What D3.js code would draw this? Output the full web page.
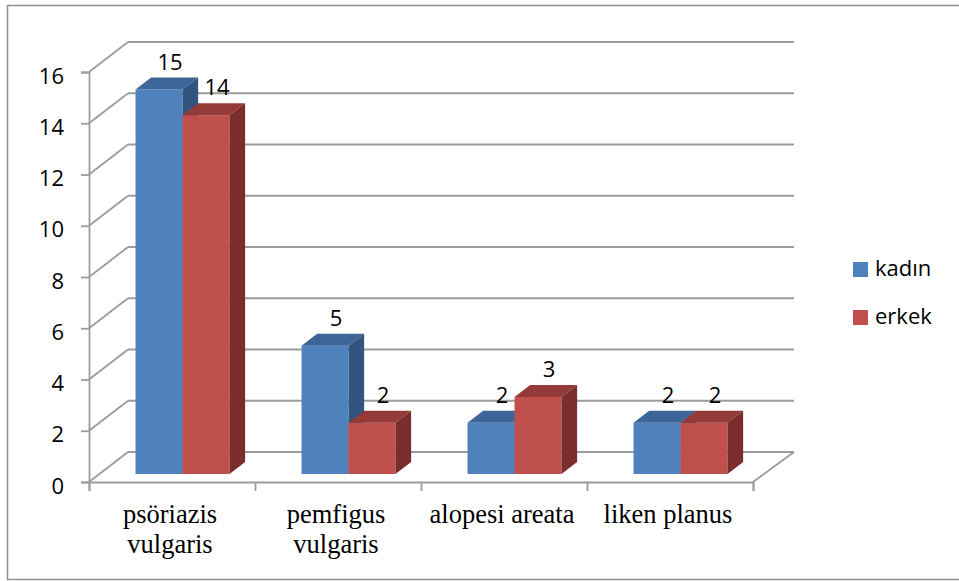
<!DOCTYPE html>
<html>
<head>
<meta charset="utf-8">
<script src="https://cdn.jsdelivr.net/npm/d3@7"></script>
<style>
  body { margin: 0; background: #fff; }
</style>
</head>
<body>
<div id="chart"></div>
<script>
// chart values
const categories = [["psöriazis", "vulgaris"], ["pemfigus", "vulgaris"], ["alopesi areata"], ["liken planus"]]
const seriesNames = ["kadın", "erkek"]
const kadin = [15, 5, 2, 2]
const erkek = [14, 2, 3, 2]
const yTicks = [0, 2, 4, 6, 8, 10, 12, 14, 16]

const width = 959
const height = 581

// oblique depth offset of the back wall
const depthX = 39
const depthY = -30
const barFront = 0.27
const barBack = 0.67

const colors = {
    "kadın": { front: "#4f81bd", top: "#3e6597", side: "#31557f" },
    "erkek": { front: "#c0504d", top: "#943b39", side: "#7a2d2c" }
}
const gridColor = "#9c9c9c"

const svg = d3.select("#chart")
    .append("svg")
    .attr("width", width)
    .attr("height", height)

// outer frame
svg.append("rect")
    .attr("x", 7.5)
    .attr("y", 5.5)
    .attr("width", 960)
    .attr("height", 574)
    .attr("fill", "none")
    .attr("stroke", "#8f8f8f")
    .attr("stroke-width", 1.5)

let x = d3.scaleBand()
    .domain(categories.map((d, i) => i))
    .range([89, 753])

let xInner = d3.scaleBand()
    .domain(seriesNames)
    .range([0, x.bandwidth()])
    .paddingOuter(0.766)

let y = d3.scaleLinear()
    .domain([0, 16])
    .range([482, 72])

const proj = (px, py, d) => [px + d * depthX, py + d * depthY]

const grid = svg.append("g")
    .attr("stroke", gridColor)
    .attr("stroke-width", 1.8)
    .attr("fill", "none")

// back wall gridlines
grid.selectAll(".back")
    .data(yTicks)
    .enter()
    .append("line")
    .attr("x1", proj(x.range()[0], 0, 1)[0])
    .attr("x2", proj(x.range()[1], 0, 1)[0] + 2)
    .attr("y1", d => proj(0, y(d), 1)[1])
    .attr("y2", d => proj(0, y(d), 1)[1])

// side wall diagonals
grid.selectAll(".side")
    .data(yTicks)
    .enter()
    .append("line")
    .attr("x1", x.range()[0])
    .attr("y1", d => y(d))
    .attr("x2", proj(x.range()[0], 0, 1)[0])
    .attr("y2", d => proj(0, y(d), 1)[1])

// floor right edge
grid.append("line")
    .attr("x1", x.range()[1])
    .attr("y1", y(0))
    .attr("x2", proj(x.range()[1], 0, 1)[0] + 2)
    .attr("y2", proj(0, y(0), 1)[1])

// front axes
let yAxis = d3.axisLeft(y).tickValues(yTicks).tickSize(8).tickPadding(17)
let yAxisG = svg.append("g")
    .attr("transform", "translate(" + x.range()[0] + ",0)")
    .call(yAxis)

let xAxis = d3.axisBottom(d3.scaleLinear().domain([0, 4]).range(x.range()))
    .ticks(4).tickSize(9).tickFormat("")
let xAxisG = svg.append("g")
    .attr("transform", "translate(0," + y(0) + ")")
    .call(xAxis)

const styleAxis = (g) => {
    g.selectAll(".domain")
        .attr("stroke", gridColor)
        .attr("stroke-width", 1.8)
    g.selectAll(".tick line")
        .attr("stroke", gridColor)
        .attr("stroke-width", 1.8)
    g.selectAll(".tick text")
        .attr("font-size", "22")
        .attr("font-family", "Open Sans")
        .attr("fill", "#000")
        .attr("dy", "0.5em")
}
styleAxis(yAxisG)
styleAxis(xAxisG)

// category labels
const catLabels = svg.append("g")
    .selectAll("text")
    .data(categories)
    .enter()
    .append("text")
    .attr("text-anchor", "middle")
    .attr("font-family", "Liberation Serif")
    .attr("font-size", "26.5")
    .attr("fill", "#000")
    .attr("transform", (d, i) => "translate(" + (x(i) + x.bandwidth() / 2 - 2) + ",523)")

catLabels.selectAll("tspan")
    .data(d => d)
    .enter()
    .append("tspan")
    .attr("x", 0)
    .attr("y", (d, i) => i * 30)
    .text(d => d)

// bars
const barData = []
categories.forEach((c, i) => {
    barData.push({ cat: i, series: "kadın", value: kadin[i] })
    barData.push({ cat: i, series: "erkek", value: erkek[i] })
})

const pts = (arr) => arr.map(p => p.join(",")).join(" ")

const bars = svg.append("g")
    .selectAll("g")
    .data(barData)
    .enter()
    .append("g")

bars.each(function (d) {
    const g = d3.select(this)
    const x0 = x(d.cat) + xInner(d.series)
    const x1 = x0 + xInner.bandwidth()
    const yTop = y(d.value)
    const yBase = y(0)
    const c = colors[d.series]

    const fTL = proj(x0, yTop, barFront), fTR = proj(x1, yTop, barFront)
    const fBL = proj(x0, yBase, barFront), fBR = proj(x1, yBase, barFront)
    const bTL = proj(x0, yTop, barBack), bTR = proj(x1, yTop, barBack)
    const bBR = proj(x1, yBase, barBack)

    g.append("polygon")
        .attr("points", pts([fTL, fTR, fBR, fBL]))
        .attr("fill", c.front)
    g.append("polygon")
        .attr("points", pts([fTL, bTL, bTR, fTR]))
        .attr("fill", c.top)
    g.append("polygon")
        .attr("points", pts([fTR, bTR, bBR, fBR]))
        .attr("fill", c.side)
})

// value labels
svg.append("g")
    .selectAll("text")
    .data(barData)
    .enter()
    .append("text")
    .attr("text-anchor", "middle")
    .attr("font-family", "Open Sans")
    .attr("font-size", "22")
    .attr("fill", "#000")
    .attr("x", d => proj(x(d.cat) + xInner(d.series) + xInner.bandwidth() / 2, 0, barFront)[0] + 11)
    .attr("y", d => proj(0, y(d.value), barBack)[1] - 8)
    .text(d => d.value)

// legend
const legend = svg.append("g")
    .selectAll("g")
    .data(seriesNames)
    .enter()
    .append("g")
    .attr("transform", (d, i) => "translate(853," + (262 + i * 48) + ")")

legend.append("rect")
    .attr("width", 15)
    .attr("height", 15)
    .attr("fill", d => colors[d].front)

legend.append("text")
    .attr("x", 22)
    .attr("y", 14)
    .attr("font-family", "Open Sans")
    .attr("font-size", "22")
    .attr("fill", "#000")
    .text(d => d)
</script>
</body>
</html>
